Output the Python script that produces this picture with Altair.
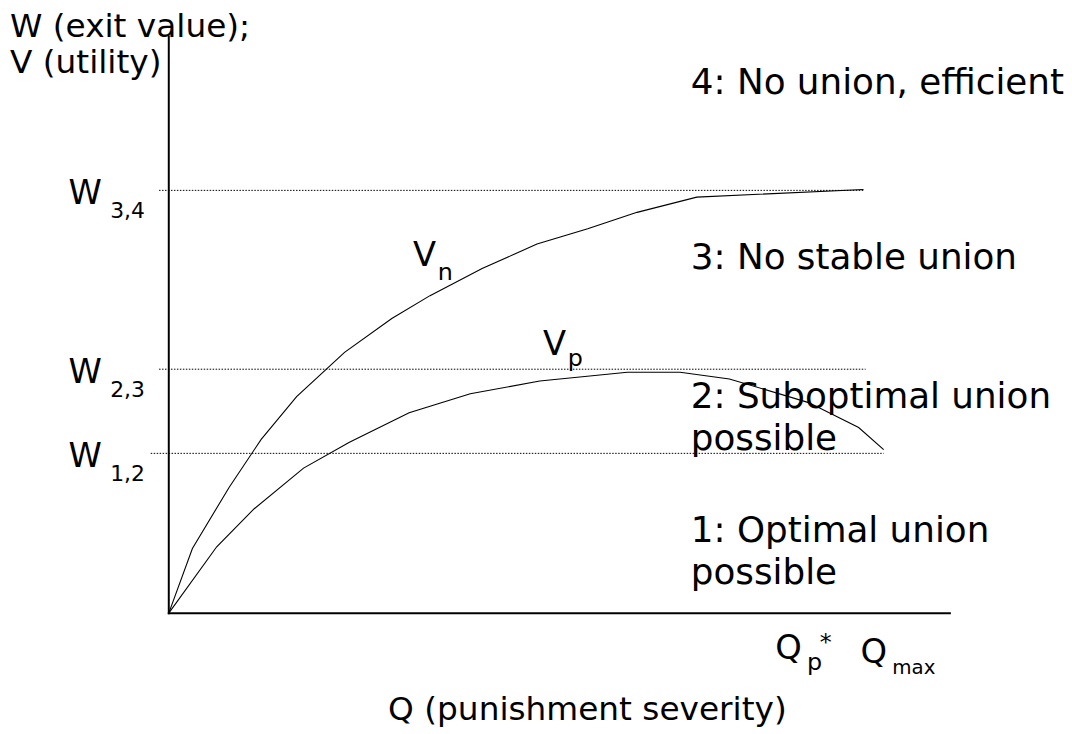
import altair as alt
import pandas as pd

# ---- data (value units: Q = punishment severity, V = utility) ----
vn_q = [0, 3.4, 8.7, 13.3, 18.4, 25.3, 32.1, 37.6, 45.1, 53.0, 60.3, 67.4, 76.0, 100.0]
vn_v = [0, 15.3, 29.8, 41.1, 51.2, 61.7, 69.7, 75.1, 81.5, 87.3, 90.9, 94.8, 98.4, 100.2]

vp_q = [0, 6.9, 12.3, 19.4, 26.0, 34.6, 43.4, 53.4, 66.0, 73.6, 80.7, 92.1, 99.3, 102.9]
vp_v = [0, 15.7, 24.7, 34.3, 40.4, 47.4, 51.9, 54.9, 57.0, 57.0, 55.4, 49.8, 43.9, 38.7]

w_names = ["W34", "W23", "W12"]
w_levels = [100.0, 57.7, 37.8]
w_start = [-1.4, -1.4, -2.6]
w_end = [100.0, 100.3, 102.9]

# ---- layout: plot area placed on the page ----
PAD_TOP = 10
OX, OY = 8, 8 + PAD_TOP          # page position of the plot area's top-left
W, H = 1064, 734 - OY            # plot area size
X_DOMAIN = [(OX - 170) / 7.0, (OX + W - 170) / 7.0]
Y_DOMAIN = [(615 - (OY + H)) / 4.26, (615 - OY) / 4.26]
FONT = "DejaVu Sans"

xs = alt.Scale(domain=X_DOMAIN, nice=False, zero=False)
ys = alt.Scale(domain=Y_DOMAIN, nice=False, zero=False)

curves = pd.DataFrame(
    {"Q": vn_q + vp_q, "V": vn_v + vp_v,
     "series": ["Vn"] * len(vn_q) + ["Vp"] * len(vp_q),
     "order": list(range(len(vn_q))) + list(range(len(vp_q)))}
)
wdf = pd.DataFrame({"name": w_names, "W": w_levels, "x0": w_start, "x1": w_end})

lines = alt.Chart(curves).mark_line(color="black", strokeWidth=1.1).encode(
    x=alt.X("Q:Q", scale=xs, axis=None),
    y=alt.Y("V:Q", scale=ys, axis=None),
    detail="series:N",
    order="order:Q",
)

wlines = alt.Chart(wdf).mark_rule(color="black", strokeWidth=1, strokeDash=[1.5, 1.5]).encode(
    x=alt.X("x0:Q", scale=xs, axis=None),
    x2="x1:Q",
    y=alt.Y("W:Q", scale=ys, axis=None),
)

one = alt.Data(values=[{"a": 1}])

def rule(x1, y1, x2, y2, w=2):
    return alt.Chart(one).mark_rule(color="black", strokeWidth=w).encode(
        x=alt.value(x1 - OX), x2=alt.value(x2 - OX),
        y=alt.value(y1 - OY), y2=alt.value(y2 - OY))

def label(t, x, y, size=34, align="left"):
    return alt.Chart(one).mark_text(
        text=t, font=FONT, fontSize=size, align=align, baseline="alphabetic", color="black"
    ).encode(x=alt.value(x - OX), y=alt.value(y - OY))

R = 36  # region labels
layers = [
    wlines,
    lines,
    rule(170, 33, 170, 616),
    rule(169, 615, 958, 615),
    label("W (exit value);", 10, 34, 33),
    label("V (utility)", 10, 71, 33),
    label("W", 69, 203), label("3,4", 111, 217, 22),
    label("W", 69, 383), label("2,3", 111, 397, 22),
    label("W", 69, 468), label("1,2", 111, 482, 22),
    label("V", 416, 265), label("n", 441, 279, 24),
    label("V", 547, 355), label("p", 572, 366, 24),
    label("4: No union, efficient", 696, 92, R),
    label("3: No stable union", 696, 268, R),
    label("2: Suboptimal union", 696, 408, R),
    label("possible", 696, 451, R),
    label("1: Optimal union", 696, 543, R),
    label("possible", 696, 586, R),
    label("Q", 781, 661), label("p", 813, 672, 24), label("*", 826, 652, 24),
    label("Q", 867, 665), label("max", 899, 676, 20),
    label("Q (punishment severity)", 391, 723, 33),
]

chart = alt.layer(*layers).properties(
    width=W, height=H,
    padding={"top": PAD_TOP, "left": 0, "right": 0, "bottom": 0},
    autosize=alt.AutoSizeParams(type="none"),
).configure_view(stroke=None)

chart.save("out.html", embed_options={"renderer": "svg", "actions": False})
